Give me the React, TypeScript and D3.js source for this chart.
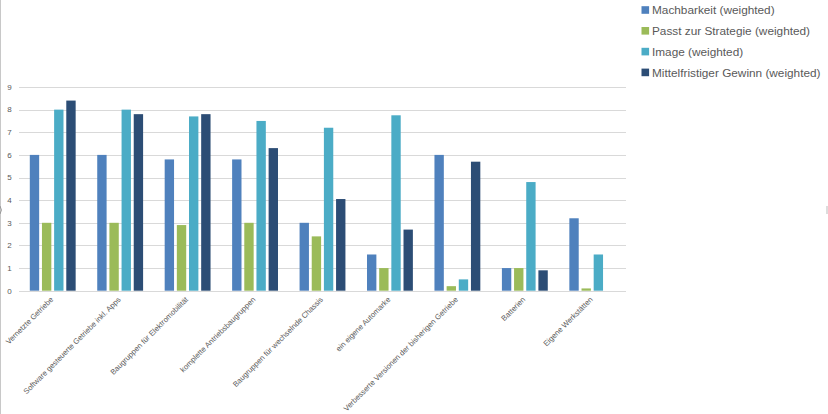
import React from "react";
import * as d3 from "d3";

const categories = [
  "Vernetzte Getriebe",
  "Software gesteuerte Getriebe inkl. Apps",
  "Baugruppen für Elektromobilität",
  "komplette Antriebsbaugruppen",
  "Baugruppen für wechselnde Chassis",
  "ein eigene Automarke",
  "Verbesserte Versionen der bisherigen Getriebe",
  "Batterien",
  "Eigene Werkstätten",
];

const seriesNames = [
  "Machbarkeit (weighted)",
  "Passt zur Strategie (weighted)",
  "Image (weighted)",
  "Mittelfristiger Gewinn (weighted)",
];

const machbarkeit = [6, 6, 5.8, 5.8, 3, 1.6, 6, 1, 3.2];
const strategie = [3, 3, 2.9, 3, 2.4, 1, 0.2, 1, 0.1];
const image = [8, 8, 7.7, 7.5, 7.2, 7.75, 0.5, 4.8, 1.6];
const gewinn = [8.4, 7.8, 7.8, 6.3, 4.05, 2.7, 5.7, 0.9, 0];

const seriesValues = [machbarkeit, strategie, image, gewinn];
const colors = ["#4F81BD", "#9BBB59", "#4BACC6", "#2C4D75"];
const yTicks = [0, 1, 2, 3, 4, 5, 6, 7, 8, 9];

const W = 828;
const H = 414;

export default function App() {
  const x0 = d3
    .scaleBand<string>()
    .domain(categories)
    .range([19, 626])
    .paddingInner(0.32)
    .paddingOuter(0.16);
  const x1 = d3
    .scaleBand<number>()
    .domain(d3.range(seriesNames.length))
    .range([0, x0.bandwidth()])
    .paddingInner(0.23)
    .paddingOuter(0);
  const y = d3.scaleLinear().domain([0, 9]).range([290.7, 87]);

  const textColor = "#595959";
  const font = "'Liberation Sans', Arial, sans-serif";

  return (
    <svg
      width={W}
      height={H}
      style={{ position: "absolute", left: 0, top: 0, background: "#fff" }}
      fontFamily={font}
    >
      <rect x={0} y={0} width={W} height={H} fill="#fff" />
      <line x1={0.5} x2={0.5} y1={0} y2={H} stroke="#c8c8c8" strokeWidth={1} />
      {/* gridlines */}
      {yTicks.map((t) => (
        <line
          key={t}
          x1={19}
          x2={626}
          y1={Math.round(y(t)) + 0.5}
          y2={Math.round(y(t)) + 0.5}
          stroke="#d9d9d9"
          strokeWidth={1}
        />
      ))}
      {/* y tick labels */}
      {yTicks.map((t) => (
        <text
          key={"yl" + t}
          x={9.5}
          y={y(t)}
          dy="0.35em"
          textAnchor="middle"
          fontSize={8}
          fill={textColor}
        >
          {t}
        </text>
      ))}
      {/* bars */}
      {categories.map((c, ci) => (
        <g key={c} transform={`translate(${x0(c)},0)`}>
          {seriesValues.map((vals, si) => {
            const v = vals[ci];
            if (v <= 0) return null;
            return (
              <rect
                key={si}
                x={x1(si)}
                y={y(v)}
                width={x1.bandwidth()}
                height={y(0) - y(v)}
                fill={colors[si]}
              />
            );
          })}
        </g>
      ))}
      {/* x labels */}
      {categories.map((c) => {
        const cx = (x0(c) as number) + x0.bandwidth() / 2 + 1;
        const cy = 300;
        return (
          <text
            key={"xl" + c}
            x={cx}
            y={cy}
            textAnchor="end"
            fontSize={7.6}
            fill={textColor}
            transform={`rotate(-45 ${cx} ${cy})`}
          >
            {c}
          </text>
        );
      })}
      {/* clipped axis title fragment */}
      <path d="M0,206 Q3,210 0,214" fill="none" stroke="#8a8a8a" strokeWidth={0.8} />
      <line x1={827} x2={827} y1={206} y2={214} stroke="#bbb" strokeWidth={1} />
      {/* legend */}
      {seriesNames.map((s, i) => {
        const ly = 10 + i * 20.8;
        return (
          <g key={s}>
            <rect x={641.5} y={ly - 3.8} width={7.6} height={7.6} fill={colors[i]} />
            <text x={652} y={ly} dy="0.35em" fontSize={11.8} fill={textColor}>
              {s}
            </text>
          </g>
        );
      })}
    </svg>
  );
}
